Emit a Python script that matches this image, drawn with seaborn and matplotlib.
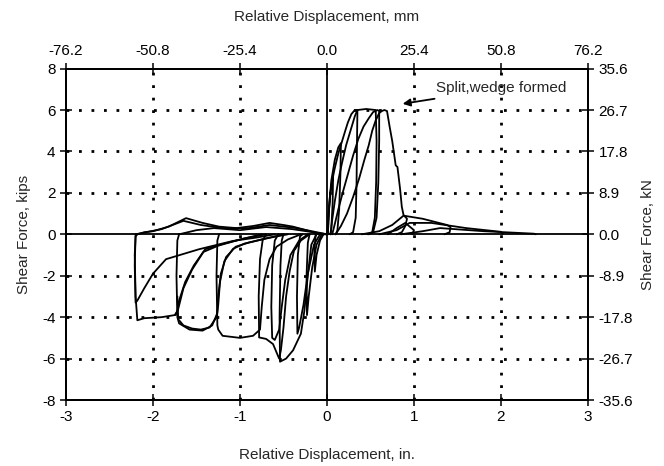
import seaborn as sns
import matplotlib.pyplot as plt
import pandas as pd

# tick values / labels
x_ticks = [-3, -2, -1, 0, 1, 2, 3]
y_ticks = [-8, -6, -4, -2, 0, 2, 4, 6, 8]
mm_labels = ['-76.2', '-50.8', '-25.4', '0.0', '25.4', '50.8', '76.2']
kn_labels = ['-35.6', '-26.7', '-17.8', '-8.9', '0.0', '8.9', '17.8', '26.7', '35.6']

# positive half cycles (displacement in., force kips)
p1_x = [0.00, 0.02, 0.04, 0.06, 0.07, 0.065, 0.05, 0.04]
p1_y = [0.0, 1.0, 2.0, 2.6, 2.8, 1.5, 0.3, 0.0]
p2_x = [0.01, 0.025, 0.05, 0.09, 0.13, 0.16, 0.155, 0.14, 0.12, 0.10]
p2_y = [0.0, 1.4, 2.6, 3.6, 4.2, 4.4, 3.0, 1.2, 0.2, 0.0]
p3_x = [0.01, 0.02, 0.035, 0.06, 0.09, 0.13, 0.17, 0.21, 0.24, 0.28, 0.32, 0.35,
        0.345, 0.34, 0.33, 0.30, 0.26]
p3_y = [0.0, 1.0, 1.9, 2.6, 3.2, 3.9, 4.45, 5.0, 5.4, 5.8, 6.0, 6.0,
        4.5, 2.5, 0.8, 0.1, 0.0]
p4_x = [0.04, 0.06, 0.09, 0.13, 0.17, 0.22, 0.27, 0.32, 0.35, 0.45, 0.56, 0.57,
        0.565, 0.55, 0.52, 0.47]
p4_y = [0.0, 0.7, 1.6, 2.6, 3.4, 4.3, 5.0, 5.7, 6.0, 6.05, 6.0, 4.5,
        2.5, 0.8, 0.1, 0.0]
p5_x = [0.06, 0.09, 0.13, 0.18, 0.24, 0.30, 0.36, 0.42, 0.48, 0.53, 0.58, 0.60,
        0.60, 0.59, 0.57, 0.53, 0.48]
p5_y = [0.0, 0.5, 1.2, 2.0, 2.9, 3.8, 4.6, 5.2, 5.6, 5.9, 6.0, 5.95,
        4.5, 2.5, 0.8, 0.1, 0.0]
p6_x = [0.10, 0.16, 0.23, 0.30, 0.37, 0.43, 0.48, 0.52, 0.56, 0.60, 0.63, 0.66,
        0.69, 0.72, 0.75, 0.79, 0.81, 0.84, 0.86, 0.88, 0.92, 0.90, 0.86, 0.80]
p6_y = [0.0, 0.4, 1.0, 1.8, 2.7, 3.6, 4.3, 5.0, 5.5, 5.85, 5.95, 6.0,
        5.95, 5.2, 4.5, 3.33, 3.25, 2.2, 1.33, 0.93, 0.75, 0.4, 0.1, 0.0]
p7_x = [0.40, 0.60, 0.75, 0.88, 1.10, 1.38, 1.42, 1.41, 1.35]
p7_y = [0.0, 0.15, 0.45, 0.9, 0.75, 0.45, 0.35, 0.1, 0.0]
p8_x = [0.60, 0.80, 0.95, 1.20, 1.60, 2.00, 2.02]
p8_y = [0.0, 0.2, 0.55, 0.55, 0.3, 0.12, 0.02]
p9_x = [0.85, 1.10, 1.30, 1.80, 2.38, 2.40]
p9_y = [0.0, 0.15, 0.3, 0.15, 0.03, 0.0]
p10_x = [0.70, 0.80, 0.90, 1.00, 0.98]
p10_y = [0.0, 0.3, 0.55, 0.2, 0.0]

# negative half cycles
n1_x = [-0.04, -0.08, -0.12, -0.14, -0.145, -0.13]
n1_y = [0.0, -0.3, -1.0, -1.8, -0.8, 0.0]
n2_x = [-0.06, -0.12, -0.17, -0.21, -0.23, -0.235, -0.22, -0.20]
n2_y = [0.0, -0.5, -1.6, -3.0, -3.9, -2.0, -0.4, 0.0]
n3_x = [-0.08, -0.15, -0.22, -0.27, -0.32, -0.34, -0.345, -0.335, -0.31, -0.28]
n3_y = [0.0, -0.5, -1.9, -3.4, -4.5, -4.8, -3.0, -1.0, -0.1, 0.0]
n4_x = [-0.12, -0.18, -0.22, -0.26, -0.30, -0.39, -0.47, -0.54, -0.545, -0.535, -0.52, -0.50]
n4_y = [0.0, -0.5, -1.95, -3.7, -4.8, -5.6, -6.0, -6.15, -4.0, -1.5, -0.3, 0.0]
n5_x = [-0.20, -0.30, -0.38, -0.43, -0.47, -0.50, -0.53, -0.55, -0.58, -0.62, -0.70,
        -0.78, -0.785, -0.77, -0.74, -0.70]
n5_y = [0.0, -0.3, -0.8, -1.8, -3.0, -4.5, -5.6, -6.0, -5.7, -5.3, -5.05,
        -4.98, -3.0, -1.2, -0.3, 0.0]
n6_x = [-0.22, -0.32, -0.42, -0.48, -0.52, -0.55, -0.60, -0.63, -0.64, -0.63, -0.60, -0.56]
n6_y = [0.0, -0.3, -1.0, -2.2, -3.5, -4.6, -5.1, -5.0, -3.5, -1.5, -0.3, 0.0]
n7_x = [-0.30, -0.45, -0.58, -0.66, -0.72, -0.75, -0.77, -0.85, -1.00, -1.20, -1.25,
        -1.26, -1.27, -1.26, -1.24]
n7_y = [0.0, -0.25, -0.6, -1.2, -2.2, -3.5, -4.6, -4.9, -5.0, -4.9, -4.6,
        -4.4, -2.0, -0.3, 0.0]
n8_x = [-0.45, -0.70, -0.90, -1.05, -1.16, -1.22, -1.25, -1.26, -1.32, -1.43, -1.58,
        -1.70, -1.72, -1.73, -1.72, -1.70]
n8_y = [0.0, -0.2, -0.4, -0.6, -1.1, -1.9, -3.0, -3.8, -4.4, -4.65, -4.6,
        -4.3, -4.0, -2.0, -0.3, 0.0]
n9_x = [-0.50, -0.75, -0.95, -1.08, -1.18, -1.23, -1.25, -1.27, -1.35, -1.45, -1.55,
        -1.65, -1.71, -1.72]
n9_y = [0.0, -0.25, -0.45, -0.7, -1.3, -2.3, -3.4, -4.0, -4.5, -4.6, -4.55,
        -4.4, -4.1, -3.0]
n10_x = [-0.70, -0.95, -1.23, -1.40, -1.53, -1.63, -1.70, -1.72, -1.75, -1.90, -2.10,
         -2.18, -2.20, -2.21, -2.20, -2.18]
n10_y = [0.0, -0.2, -0.5, -0.72, -1.5, -2.3, -3.2, -3.7, -3.9, -4.0, -4.05,
         -4.15, -3.0, -1.0, -0.1, 0.0]
n11_x = [-0.75, -1.00, -1.25, -1.42, -1.55, -1.65, -1.71, -1.74]
n11_y = [0.0, -0.25, -0.55, -0.85, -1.7, -2.6, -3.6, -3.9]
n12_x = [-0.60, -0.80, -1.08, -1.47, -1.85, -2.00, -2.10, -2.18, -2.20, -2.21, -2.20]
n12_y = [0.0, -0.15, -0.32, -0.72, -1.2, -1.9, -2.6, -3.2, -3.3, -1.5, 0.0]

# return branches (slight positive force back toward zero)
r1_x = [-2.18, -2.10, -2.00, -1.82, -1.62, -1.43, -1.24, -1.04, -0.85, -0.66, -0.50,
        -0.39, -0.20, -0.08, 0.00]
r1_y = [0.0, 0.1, 0.15, 0.37, 0.78, 0.55, 0.37, 0.3, 0.4, 0.55, 0.45,
        0.37, 0.15, 0.0, 0.0]
r2_x = [-2.20, -1.90, -1.65, -1.45, -1.20, -0.90, -0.66, -0.35, 0.00]
r2_y = [0.0, 0.25, 0.65, 0.45, 0.3, 0.3, 0.45, 0.3, 0.0]
r3_x = [-1.70, -1.50, -1.30, -1.00, -0.70, -0.40, 0.00]
r3_y = [0.0, 0.2, 0.3, 0.2, 0.35, 0.25, 0.0]

loops = [(p1_x, p1_y), (p2_x, p2_y), (p3_x, p3_y), (p4_x, p4_y), (p5_x, p5_y),
         (p6_x, p6_y), (p7_x, p7_y), (p8_x, p8_y), (p9_x, p9_y), (p10_x, p10_y),
         (n1_x, n1_y), (n2_x, n2_y), (n3_x, n3_y), (n4_x, n4_y), (n5_x, n5_y),
         (n6_x, n6_y), (n7_x, n7_y), (n8_x, n8_y), (n9_x, n9_y), (n10_x, n10_y),
         (n11_x, n11_y), (n12_x, n12_y), (r1_x, r1_y), (r2_x, r2_y), (r3_x, r3_y)]

sns.set_style('ticks')
plt.rcParams['font.family'] = ['Liberation Sans', 'DejaVu Sans']
plt.rcParams['axes.unicode_minus'] = False

fig = plt.figure(figsize=(6.64, 4.66), dpi=100)
ax = fig.add_axes([0.0994, 0.1416, 0.7861, 0.7112])

# grid: dotted inside, solid through the origin
for v in [-2, -1, 1, 2]:
    ax.axvline(v, color='black', lw=2, ls=(0, (1, 3.5)), zorder=1)
for v in [-6, -4, -2, 2, 4, 6]:
    ax.axhline(v, color='black', lw=2, ls=(0, (1, 3.5)), zorder=1)
ax.axvline(0, color='black', lw=1.3, zorder=2)
ax.axhline(0, color='black', lw=1.3, zorder=2)

for lx, ly in loops:
    df = pd.DataFrame({'disp': lx, 'force': ly})
    sns.lineplot(data=df, x='disp', y='force', sort=False, estimator=None,
                 color='black', lw=1.3, ax=ax, zorder=3)

ax.set_xlim(-3, 3)
ax.set_ylim(-8, 8)
ax.set_xticks(x_ticks)
ax.set_yticks(y_ticks)
ax.set_xlabel('Relative Displacement, in.', fontsize=11, labelpad=17)
ax.set_ylabel('Shear Force, kips', fontsize=11, labelpad=8)

ax_top = ax.twiny()
ax_top.set_xlim(-3, 3)
ax_top.set_xticks(x_ticks)
ax_top.set_xticklabels(mm_labels)
ax_top.set_xlabel('Relative Displacement, mm', fontsize=11, labelpad=17)

ax_r = ax.twinx()
ax_r.set_ylim(-8, 8)
ax_r.set_yticks(y_ticks)
ax_r.set_yticklabels(kn_labels)
ax_r.set_ylabel('Shear Force, kN', fontsize=11, labelpad=6)

for a in (ax, ax_top, ax_r):
    a.tick_params(direction='inout', length=9, width=1.1, labelsize=11,
                  colors='black', pad=3)
    for s in a.spines.values():
        s.set_linewidth(1.3)
        s.set_color('black')

ax.annotate('Split,wedge formed', xy=(0.87, 6.3), xytext=(1.25, 7.05),
            fontsize=11, ha='left', va='center',
            arrowprops=dict(arrowstyle='-|>', color='black', lw=1.3,
                            mutation_scale=11, shrinkA=1, shrinkB=0))

fig.savefig('out.png', dpi=100)
